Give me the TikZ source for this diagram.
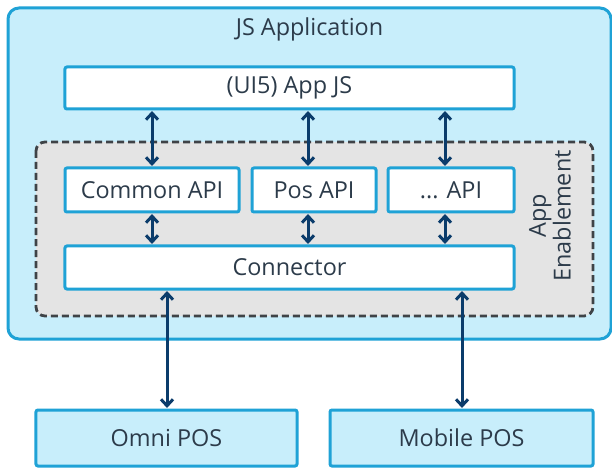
\documentclass[tikz,border=0pt]{standalone}
\usepackage{fontspec}
\setmainfont{Open Sans}
\usetikzlibrary{arrows.meta}
\definecolor{outerfill}{HTML}{C8EEFB}
\definecolor{boxline}{HTML}{1FA2D6}
\definecolor{grayfill}{HTML}{E4E4E4}
\definecolor{dashline}{HTML}{3F4347}
\definecolor{arrowcol}{HTML}{0B3C6B}
\definecolor{txt}{HTML}{2C3B4A}
\tikzset{
  whitebox/.style={draw=boxline, fill=white, line width=3bp, rounded corners=2bp, inner sep=0pt},
  posbox/.style={draw=boxline, fill=outerfill, line width=3bp, rounded corners=2bp, inner sep=0pt},
  lbl/.style={text=txt, font=\fontsize{23.5}{27}\selectfont, inner sep=0pt},
  link/.style={draw=arrowcol, line width=3bp, {Straight Barb[length=6.5bp,width=12bp,line width=3bp]}-{Straight Barb[length=6.5bp,width=12bp,line width=3bp]}, shorten <=0.5bp, shorten >=0.5bp},
}
\begin{document}
\begin{tikzpicture}[x=1bp,y=-1bp]
\useasboundingbox (0,0) rectangle (612,468);
\fill[white] (0,0) rectangle (612,468);
% outer JS application box
\draw[draw=boxline, fill=outerfill, line width=3bp, rounded corners=11bp] (8,8) rectangle (611,339);
\node[lbl] (title) at (309.5,29) {JS Application};
% app enablement dashed area
\draw[draw=dashline, fill=grayfill, line width=2.8bp, dash pattern=on 7bp off 4bp, rounded corners=9bp] (36,142) rectangle (593,316);
\node[lbl, rotate=90, align=center, font=\fontsize{23.5}{25}\selectfont] (enab) at (550,216) {App\\Enablement};
% boxes
\node[whitebox, minimum width=449bp, minimum height=42bp] (ui5) at (289.5,88) {};
\node[lbl] at (ui5) {(UI5) App JS};
\node[whitebox, minimum width=174bp, minimum height=44bp] (common) at (152,190) {};
\node[lbl] at (common) {Common API};
\node[whitebox, minimum width=124bp, minimum height=44bp] (pos) at (314,190) {};
\node[lbl] at (pos) {Pos API};
\node[whitebox, minimum width=126bp, minimum height=44bp] (dots) at (451,190) {};
\node[lbl] at (dots) {... API};
\node[whitebox, minimum width=449bp, minimum height=43bp] (conn) at (289.5,267.5) {};
\node[lbl] at (conn) {Connector};
\node[posbox, minimum width=261bp, minimum height=56bp] (omni) at (166.5,438) {};
\node[lbl] at (omni) {Omni POS};
\node[posbox, minimum width=263bp, minimum height=56bp] (mobile) at (461.5,438) {};
\node[lbl] at (mobile) {Mobile POS};
% connectors
\draw[link] (ui5.south -| 152,0) -- (common.north -| 152,0);
\draw[link] (ui5.south -| 308,0) -- (pos.north -| 308,0);
\draw[link] (ui5.south -| 445,0) -- (dots.north -| 445,0);
\draw[link] (common.south -| 152,0) -- (conn.north -| 152,0);
\draw[link] (pos.south -| 308,0) -- (conn.north -| 308,0);
\draw[link] (dots.south -| 445,0) -- (conn.north -| 445,0);
\draw[link] (conn.south -| 167,0) -- (omni.north -| 167,0);
\draw[link] (conn.south -| 462,0) -- (mobile.north -| 462,0);
\end{tikzpicture}
\end{document}
